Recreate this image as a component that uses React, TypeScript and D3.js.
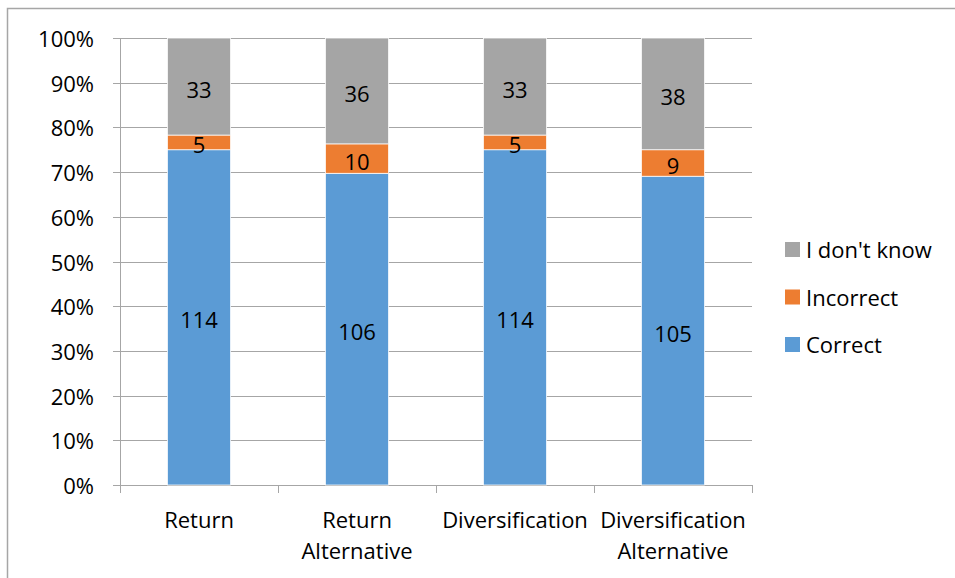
import React from "react";
import * as d3 from "d3";

// Survey answers per question, stacked to 100%
const categories = ["Return", "Return Alternative", "Diversification", "Diversification Alternative"];
const categoryLines = [["Return"], ["Return", "Alternative"], ["Diversification"], ["Diversification", "Alternative"]];
const correct = [114, 106, 114, 105];
const incorrect = [5, 10, 5, 9];
const dontKnow = [33, 36, 33, 38];
const seriesNames = ["Correct", "Incorrect", "I don't know"];
const seriesColors = ["#5b9bd5", "#ed7d31", "#a5a5a5"];
const yTicks = [0, 0.1, 0.2, 0.3, 0.4, 0.5, 0.6, 0.7, 0.8, 0.9, 1];

const W = 955;
const H = 578;
const plot = { left: 120, right: 752, top: 38, bottom: 485 };
const FONT = "'Open Sans', sans-serif";
const FS = 22;
const GRID = "#a6a6a6";

export default function App() {
  const rows = categories.map((c, i) => ({
    cat: c,
    Correct: correct[i],
    Incorrect: incorrect[i],
    "I don't know": dontKnow[i],
  }));

  const stack = d3
    .stack<any>()
    .keys(seriesNames)
    .offset(d3.stackOffsetExpand);
  const layers = stack(rows);

  const x = d3
    .scaleBand<string>()
    .domain(categories)
    .range([plot.left, plot.right])
    .paddingInner(0.6)
    .paddingOuter(0.3);
  const y = d3.scaleLinear().domain([0, 1]).range([plot.bottom, plot.top]);
  const fmt = d3.format(".0%");

  const step = x.step();
  const boundaries = d3.range(categories.length + 1).map((i) => plot.left + i * step);

  return (
    <svg
      width={W}
      height={H}
      style={{ position: "absolute", left: 0, top: 0, background: "#fff" }}
      fontFamily={FONT}
    >
      <rect x={0} y={0} width={W} height={H} fill="#fff" />
      {/* chart frame */}
      <rect x={7.5} y={8.5} width={W + 20} height={H + 20} fill="none" stroke="#a6a6a6" strokeWidth={1.5} />

      {/* horizontal gridlines */}
      {yTicks.map((t) => (
        <line key={"g" + t} x1={plot.left} x2={plot.right} y1={Math.round(y(t)) + 0.5} y2={Math.round(y(t)) + 0.5} stroke={GRID} strokeWidth={1} />
      ))}

      {/* y axis */}
      <line x1={plot.left + 0.5} x2={plot.left + 0.5} y1={plot.top} y2={plot.bottom} stroke={GRID} />
      {yTicks.map((t) => (
        <g key={"t" + t}>
          <line x1={plot.left - 7} x2={plot.left} y1={Math.round(y(t)) + 0.5} y2={Math.round(y(t)) + 0.5} stroke={GRID} />
          <text x={94} y={y(t)} textAnchor="end" dominantBaseline="central" fontSize={FS} fill="#000">
            {fmt(t)}
          </text>
        </g>
      ))}

      {/* x axis */}
      {boundaries.map((b, i) => (
        <line key={"xb" + i} x1={Math.round(b) + 0.5} x2={Math.round(b) + 0.5} y1={plot.bottom} y2={plot.bottom + 8} stroke={GRID} />
      ))}
      {categories.map((c, i) => (
        <text key={"xl" + c} x={(x(c) ?? 0) + x.bandwidth() / 2} y={528} textAnchor="middle" fontSize={FS} fill="#000">
          {categoryLines[i].map((ln, j) => (
            <tspan key={j} x={(x(c) ?? 0) + x.bandwidth() / 2} dy={j === 0 ? 0 : 31}>
              {ln}
            </tspan>
          ))}
        </text>
      ))}

      {/* stacked segments */}
      {layers.map((layer, li) => (
        <g key={layer.key}>
          {layer.map((d: any, i: number) => (
            <rect
              key={i}
              x={x(d.data.cat)}
              y={y(d[1])}
              width={x.bandwidth()}
              height={y(d[0]) - y(d[1])}
              fill={seriesColors[li]}
              stroke="#fff"
              strokeWidth={0.75}
            />
          ))}
        </g>
      ))}

      {/* segment value labels */}
      {layers.map((layer) => (
        <g key={"lab" + layer.key}>
          {layer.map((d: any, i: number) => (
            <text
              key={i}
              x={(x(d.data.cat) ?? 0) + x.bandwidth() / 2}
              y={(y(d[0]) + y(d[1])) / 2 + 2}
              textAnchor="middle"
              dominantBaseline="central"
              fontSize={FS}
              fill="#000"
            >
              {d.data[layer.key]}
            </text>
          ))}
        </g>
      ))}

      {/* legend */}
      {seriesNames
        .slice()
        .reverse()
        .map((name, i) => {
          const cy = 249 + i * 47.5;
          const color = seriesColors[seriesNames.indexOf(name)];
          return (
            <g key={"lg" + name}>
              <rect x={785} y={cy - 7} width={15} height={15} fill={color} />
              <text x={806} y={cy} dominantBaseline="central" fontSize={FS} fill="#000">
                {name}
              </text>
            </g>
          );
        })}
    </svg>
  );
}
